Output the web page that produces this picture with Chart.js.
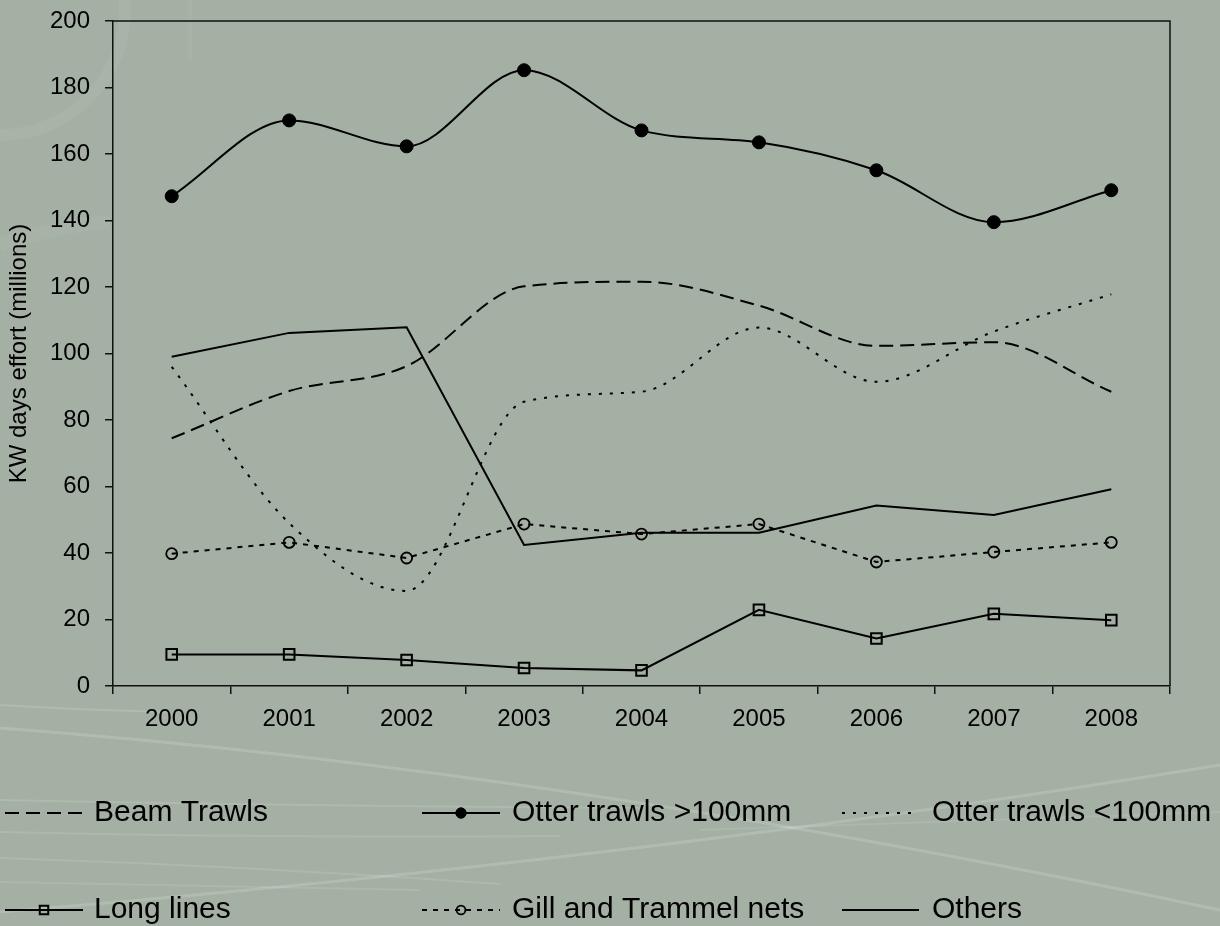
<!DOCTYPE html>
<html>
<head>
<meta charset="utf-8">
<script src="https://cdn.jsdelivr.net/npm/chart.js@4/dist/chart.umd.min.js"></script>
<style>
  html, body { margin: 0; padding: 0; background: #a3b0a3; }
  #wrap { width: 1220px; height: 926px; }
</style>
</head>
<body>
<div id="wrap"><canvas id="c" width="1220" height="926"></canvas></div>
<script>
// ---- data ----
const years = ['2000', '2001', '2002', '2003', '2004', '2005', '2006', '2007', '2008'];
const beamTrawls = [74.5, 88.7, 96.2, 120.2, 121.6, 114.4, 102.3, 103.4, 88.5];
const otterLarge = [147.3, 170.1, 162.3, 185.2, 167.1, 163.5, 155.1, 139.5, 149.1];
const otterSmall = [96.0, 49.0, 28.6, 85.5, 88.5, 107.8, 91.5, 106.6, 117.8];
const longLines = [9.5, 9.5, 7.8, 5.4, 4.7, 22.9, 14.3, 21.7, 19.8];
const gillNets = [39.8, 43.2, 38.5, 48.7, 45.7, 48.7, 37.3, 40.3, 43.2];
const others = [99.0, 106.2, 107.9, 42.4, 46.1, 46.1, 54.3, 51.4, 59.2];
const seriesNames = ['Beam Trawls', 'Otter trawls >100mm', 'Otter trawls <100mm', 'Long lines', 'Gill and Trammel nets', 'Others'];
const yTicksMin = 0, yTicksMax = 200, yTickStep = 20;
const yTitle = 'KW days effort (millions)';

const FONT = "'Liberation Sans', Arial, Helvetica, sans-serif";

const bgPlugin = {
  id: 'bg',
  beforeDraw(chart) {
    const ctx = chart.ctx;
    ctx.save();
    ctx.fillStyle = '#a3b0a3';
    ctx.fillRect(0, 0, chart.width, chart.height);
    // faint decorative arcs (top-left)
    ctx.strokeStyle = 'rgba(255,255,255,0.05)';
    ctx.lineWidth = 12;
    ctx.beginPath();
    ctx.arc(0, 10, 125, -0.1, Math.PI / 2 + 0.3);
    ctx.stroke();
    ctx.lineWidth = 5;
    ctx.strokeStyle = 'rgba(255,255,255,0.04)';
    ctx.beginPath();
    ctx.moveTo(190, 0); ctx.lineTo(190, 60);
    ctx.stroke();
    ctx.lineWidth = 14;
    ctx.beginPath();
    ctx.moveTo(0, 245); ctx.quadraticCurveTo(60, 225, 110, 222);
    ctx.stroke();
    // light streaks at the bottom
    const streaks = [
      [0, 728, 560, 770, 1220, 910, 'rgba(255,255,255,0.16)', 3],
      [0, 912, 640, 860, 1220, 765, 'rgba(255,255,255,0.16)', 3],
      [0, 800, 300, 806, 640, 808, 'rgba(255,255,255,0.13)', 2],
      [0, 832, 260, 838, 560, 836, 'rgba(255,255,255,0.12)', 2],
      [0, 858, 250, 866, 500, 884, 'rgba(255,255,255,0.12)', 2],
      [0, 882, 200, 886, 420, 890, 'rgba(255,255,255,0.10)', 2],
      [700, 830, 950, 822, 1220, 812, 'rgba(255,255,255,0.10)', 2],
      [0, 705, 80, 710, 170, 712, 'rgba(255,255,255,0.14)', 2]
    ];
    streaks.forEach(s => {
      ctx.strokeStyle = s[6];
      ctx.lineWidth = s[7];
      ctx.beginPath();
      ctx.moveTo(s[0], s[1]);
      ctx.quadraticCurveTo(s[2], s[3], s[4], s[5]);
      ctx.stroke();
    });
    ctx.restore();
  },
  beforeDatasetsDraw(chart) {
    const { ctx, chartArea: a } = chart;
    ctx.save();
    ctx.strokeStyle = '#111';
    ctx.lineWidth = 1.5;
    ctx.beginPath();
    ctx.moveTo(a.left, a.top);
    ctx.lineTo(a.right, a.top);
    ctx.lineTo(a.right, a.bottom);
    ctx.stroke();
    ctx.restore();
  }
};

const legendPlugin = {
  id: 'customLegend',
  afterDraw(chart) {
    const ctx = chart.ctx;
    const colStart = [5, 422, 842];
    const colEnd = [83, 500, 919];
    const colText = [94, 512, 932];
    const rowY = [813, 910];
    ctx.save();
    chart.data.datasets.forEach((ds, i) => {
      const row = Math.floor(i / 3), col = i % 3;
      const y = rowY[row];
      ctx.strokeStyle = '#000';
      ctx.lineWidth = 2;
      ctx.setLineDash(ds.borderDash || []);
      ctx.beginPath();
      ctx.moveTo(colStart[col], y);
      ctx.lineTo(colEnd[col], y);
      ctx.stroke();
      ctx.setLineDash([]);
      if (ds.pointRadius > 0) {
        ctx.fillStyle = ds.pointBackgroundColor;
        ctx.strokeStyle = '#000';
        ctx.lineWidth = ds.pointBorderWidth;
        Chart.helpers.drawPoint(ctx, {
          pointStyle: ds.pointStyle,
          radius: ds.pointRadius * 0.8,
          rotation: 0,
          borderWidth: ds.pointBorderWidth
        }, (colStart[col] + colEnd[col]) / 2, y);
      }
      ctx.fillStyle = '#000';
      ctx.font = '30px ' + FONT;
      ctx.textBaseline = 'middle';
      ctx.textAlign = 'left';
      ctx.fillText(ds.label, colText[col], y);
    });
    ctx.restore();
  }
};

const base = {
  borderColor: '#000',
  borderWidth: 2,
  fill: false,
  pointBorderColor: '#000',
  pointHoverRadius: 0
};

new Chart(document.getElementById('c'), {
  type: 'line',
  data: {
    labels: years,
    datasets: [
      Object.assign({}, base, { label: seriesNames[0], data: beamTrawls, borderDash: [14, 7], cubicInterpolationMode: 'monotone', pointRadius: 0 }),
      Object.assign({}, base, { label: seriesNames[1], data: otterLarge, cubicInterpolationMode: 'monotone', pointRadius: 6.5, pointStyle: 'circle', pointBackgroundColor: '#000', pointBorderWidth: 1 }),
      Object.assign({}, base, { label: seriesNames[2], data: otterSmall, borderDash: [3, 8], cubicInterpolationMode: 'monotone', pointRadius: 0 }),
      Object.assign({}, base, { label: seriesNames[3], data: longLines, tension: 0, pointRadius: 7.5, pointStyle: 'rect', pointBackgroundColor: 'rgba(0,0,0,0)', pointBorderWidth: 2 }),
      Object.assign({}, base, { label: seriesNames[4], data: gillNets, borderDash: [5, 6], tension: 0, pointRadius: 5.5, pointStyle: 'circle', pointBackgroundColor: 'rgba(0,0,0,0)', pointBorderWidth: 1.8 }),
      Object.assign({}, base, { label: seriesNames[5], data: others, tension: 0, pointRadius: 0 })
    ]
  },
  options: {
    responsive: false,
    devicePixelRatio: 1,
    animation: false,
    events: [],
    layout: { padding: { left: 0, top: 21, right: 50, bottom: 0 } },
    plugins: { legend: { display: false }, tooltip: { enabled: false } },
    scales: {
      x: {
        type: 'category',
        offset: true,
        grid: { offset: true, drawOnChartArea: false, drawTicks: true, tickLength: 8, color: '#111', lineWidth: 1.5 },
        border: { display: true, color: '#111', width: 1.5 },
        ticks: { color: '#000', font: { family: FONT, size: 24 }, padding: 11, maxRotation: 0, autoSkip: false },
        afterFit(s) { s.height = 240; s.paddingLeft = 0; s.paddingRight = 0; }
      },
      y: {
        min: yTicksMin,
        max: yTicksMax,
        grid: { drawOnChartArea: false, drawTicks: true, tickLength: 8, color: '#111', lineWidth: 1.5 },
        border: { display: true, color: '#111', width: 1.5 },
        ticks: { stepSize: yTickStep, color: '#000', font: { family: FONT, size: 24 }, padding: 15 },
        title: { display: true, text: yTitle, color: '#000', font: { family: FONT, size: 24 }, padding: { top: 5, bottom: 0 } },
        afterFit(s) { s.width = 113; s.paddingTop = 0; s.paddingBottom = 0; }
      }
    }
  },
  plugins: [bgPlugin, legendPlugin]
});
</script>
</body>
</html>
